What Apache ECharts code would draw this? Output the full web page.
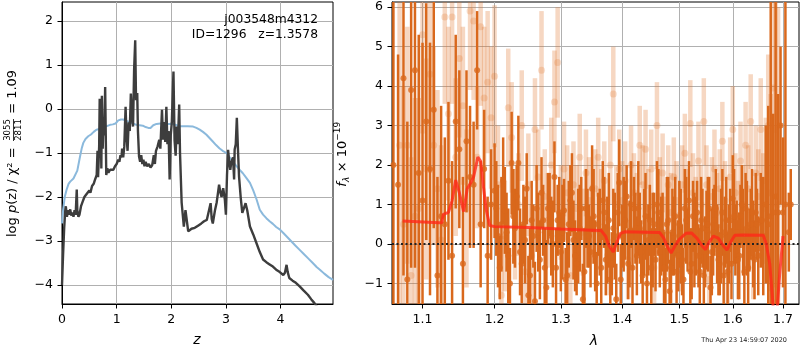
<!DOCTYPE html>
<html><head><meta charset="utf-8">
<script src="https://cdn.jsdelivr.net/npm/echarts@6/dist/echarts.min.js"></script>
<style>html,body{margin:0;padding:0;background:#fff}#c{width:800px;height:350px}</style>
</head><body><div id="c"></div>
<script>
// ---------------- data: left panel (redshift PDF) ----------------
const zDark = [0,0.02,0.04,0.06,0.07,0.09,0.11,0.13,0.15,0.17,0.19,0.21,0.23,0.25,0.27,0.28,0.30,0.32,0.35,0.38,0.41,0.44,0.47,0.50,0.52,0.55,0.58,0.60,0.62,0.635,0.65,0.66,0.68,0.69,0.70,0.71,0.72,0.73,0.745,0.76,0.775,0.79,0.80,0.81,0.83,0.85,0.88,0.91,0.94,0.97,1.00,1.03,1.05,1.07,1.09,1.10,1.12,1.14,1.164,1.18,1.20,1.22,1.24,1.26,1.28,1.30,1.32,1.34,1.355,1.377,1.39,1.41,1.43,1.45,1.47,1.49,1.51,1.53,1.56,1.59,1.62,1.65,1.68,1.70,1.72,1.75,1.78,1.80,1.83,1.85,1.87,1.89,1.91,1.93,1.95,1.97,1.99,2.01,2.04,2.06,2.08,2.10,2.12,2.145,2.16,2.19,2.23,2.26,2.31,2.37,2.43,2.49,2.55,2.60,2.65,2.68,2.72,2.74,2.76,2.80,2.83,2.85,2.875,2.90,2.92,2.95,2.98,3.0,3.02,3.04,3.06,3.08,3.10,3.13,3.15,3.16,3.18,3.20,3.22,3.24,3.27,3.30,3.33,3.36,3.39,3.44,3.50,3.56,3.62,3.68,3.74,3.80,3.86,3.92,3.98,4.05,4.08,4.11,4.13,4.16,4.22,4.28,4.35,4.42,4.50,4.56,4.62,4.70];
const logPz = [-4.0,-3.3,-2.7,-2.3,-2.21,-2.45,-2.3,-2.4,-2.28,-2.42,-2.35,-2.45,-2.3,-2.4,-1.83,-2.3,-2.45,-2.4,-2.2,-2.1,-2.0,-1.95,-1.95,-1.85,-1.9,-1.75,-1.7,-1.62,-1.65,-1.5,-0.95,-1.55,-0.85,0.23,-1.1,-0.4,-1.35,0.3,-0.9,-0.2,-0.6,0.5,-0.5,-1.5,-1.35,-1.45,-1.38,-1.42,-1.38,-1.3,-1.25,-1.15,-1.2,-1.05,-1.1,-0.9,-1.1,-0.85,0.05,-0.6,-0.95,-0.3,-0.5,0.35,-0.2,-0.4,0.9,1.56,0.2,0.36,-0.5,-1.08,-1.2,-1.05,-1.25,-1.15,-1.3,-1.2,-1.3,-1.25,-1.33,-1.28,-1.05,-1.25,-0.95,-0.85,-0.7,-0.9,-0.02,-0.7,-0.3,-0.75,0.05,-0.8,-0.5,-1.6,-0.6,-0.3,0.85,-0.7,-1.06,-0.4,-0.8,0.1,-1.0,-2.13,-2.67,-2.3,-2.78,-2.72,-2.7,-2.65,-2.6,-2.55,-2.52,-2.52,-2.14,-2.5,-2.6,-2.3,-2.13,-1.95,-1.72,-1.9,-2.0,-1.8,-2.05,-2.4,-1.5,-0.93,-1.2,-1.38,-1.2,-1.1,-1.6,-0.92,-0.8,-0.2,-0.9,-1.53,-2.0,-2.36,-2.25,-2.14,-2.3,-2.67,-2.85,-3.05,-3.25,-3.42,-3.48,-3.53,-3.58,-3.65,-3.7,-3.77,-3.72,-3.54,-3.7,-3.84,-3.9,-3.95,-4.03,-4.12,-4.22,-4.32,-4.41,-4.55];
const zChi = [0,0.02,0.05,0.085,0.12,0.15,0.177,0.21,0.24,0.28,0.33,0.36,0.39,0.43,0.48,0.53,0.58,0.63,0.70,0.76,0.82,0.88,0.93,0.98,1.03,1.08,1.12,1.18,1.24,1.30,1.36,1.42,1.48,1.53,1.58,1.62,1.67,1.73,1.80,1.88,1.95,2.03,2.10,2.16,2.22,2.30,2.40,2.46,2.52,2.58,2.64,2.70,2.76,2.82,2.88,2.94,3.01,3.07,3.13,3.19,3.25,3.31,3.37,3.44,3.50,3.56,3.62,3.68,3.74,3.80,3.86,3.92,3.99,4.06,4.13,4.20,4.27,4.35,4.43,4.51,4.59,4.66,4.72,4.80,4.88,4.96];
const chiCurve = [-2.6,-2.3,-2.0,-1.83,-1.7,-1.65,-1.65,-1.58,-1.55,-1.4,-1.08,-0.9,-0.77,-0.68,-0.62,-0.58,-0.52,-0.47,-0.45,-0.41,-0.39,-0.36,-0.35,-0.33,-0.26,-0.24,-0.24,-0.27,-0.3,-0.33,-0.36,-0.37,-0.38,-0.41,-0.43,-0.43,-0.37,-0.34,-0.33,-0.33,-0.34,-0.34,-0.37,-0.39,-0.39,-0.39,-0.4,-0.43,-0.47,-0.52,-0.58,-0.66,-0.74,-0.82,-0.89,-0.95,-1.0,-1.1,-1.2,-1.29,-1.38,-1.46,-1.56,-1.68,-1.85,-2.05,-2.29,-2.4,-2.48,-2.55,-2.61,-2.68,-2.74,-2.83,-2.92,-3.01,-3.1,-3.2,-3.3,-3.4,-3.5,-3.59,-3.65,-3.74,-3.82,-3.88];
const zTicks = [0,1,2,3,4];
const pzTicks = [-4,-3,-2,-1,0,1,2];

// ---------------- data: right panel (spectrum) ----------------
const waveA = [1.062,1.068,1.075,1.080,1.085,1.090,1.095,1.100,1.105,1.110,1.115,1.120,1.125,1.130,1.135,1.140,1.145,1.150,1.155,1.160,1.165,1.170,1.175,1.180,1.185,1.190,1.195,1.200,1.205,1.210,1.215,1.220,1.225,1.230,1.235,1.240,1.245,1.250,1.255,1.260,1.265,1.270,1.275,1.280,1.285,1.290,1.295,1.300,1.305,1.310,1.315,1.320,1.325,1.330,1.335,1.340,1.345,1.350,1.355,1.360,1.365,1.370,1.375,1.380,1.385,1.390,1.395,1.400,1.405,1.410,1.415,1.420,1.425,1.430,1.435,1.440,1.445,1.450,1.455,1.460,1.465,1.470,1.475,1.480,1.485,1.490,1.495,1.500,1.505,1.510,1.515,1.520,1.525,1.530,1.535,1.540,1.545,1.550,1.555,1.560,1.565,1.570,1.575,1.580,1.585,1.590,1.595,1.600,1.605,1.610,1.615,1.620,1.625,1.630,1.635,1.640,1.645,1.650,1.655,1.660,1.665,1.670,1.675,1.680,1.685,1.690,1.695,1.700,1.705,1.712,1.716,
  1.2025,1.2075,1.2125,1.2175,1.2225,1.2275,1.2325,1.2375,1.2425,1.2475,1.2525,1.2575,1.2625,1.2675,1.2725,1.2775,1.2825,1.2875,1.2925,1.2975,1.3025,1.3075,1.3125,1.3175,1.3225,1.3275,1.3325,1.3375,1.3425,1.3475,1.3525,1.3575,1.3625,1.3675,1.3725,1.3775,1.3825,1.3875,1.3925,1.3975,1.4025,1.4075,1.4125,1.4175,1.4225,1.4275,1.4325,1.4375,1.4425,1.4475,1.4525,1.4575,1.4625,1.4675,1.4725,1.4775,1.4825,1.4875,1.4925,1.4975,1.5025,1.5075,1.5125,1.5175,1.5225,1.5275,1.5325,1.5375,1.5425,1.5475,1.5525,1.5575,1.5625,1.5675,1.5725,1.5775,1.5825,1.5875,1.5925,1.5975,1.6025,1.6075,1.6125,1.6175,1.6225,1.6275,1.6325,1.6375,1.6425,1.6475,1.6525,1.6575];
const fluxA = [2.0,1.5,4.2,-0.9,3.9,4.4,1.8,1.1,3.1,1.9,3.4,-0.8,0.7,0.5,1.6,-0.3,3.1,2.4,-0.5,2.6,1.7,1.5,4.4,0.5,1.9,-0.3,1.0,1.35,0.2,0.5,0.85,-0.3,2.05,0.4,2.05,-0.5,0.1,-1.3,0.6,-1.45,0.3,1.3,-0.6,0.9,0.2,1.7,0.6,-0.2,0.85,-0.8,1.1,0.1,-0.5,0.4,-1.4,0.9,0.2,1.4,-0.3,0.5,-0.6,0.8,0.1,-0.9,0.4,-1.4,1.55,0.2,0.6,-0.5,1.0,0.9,-0.3,0.4,-0.8,0.7,0.1,-0.6,0.5,1.0,-0.2,0.3,-0.9,0.6,-0.6,0.2,-0.7,0.5,-0.4,0.9,0.1,-0.7,0.7,0.2,-0.3,0.6,-0.8,0.35,0.9,-0.2,0.6,0.0,-0.5,0.8,0.3,-0.7,0.6,1.15,0.1,-0.4,0.7,0.3,0.9,-0.6,0.5,0.0,0.8,-0.3,0.6,0.2,1.0,0.5,0.7,0.8,1.2,0.8,3.0,0.8,1.0,0.3,1.0,
  0.9,-0.6,1.6,0.3,-1.0,0.7,1.2,-0.2,0.5,1.4,-0.8,0.2,0.9,-0.4,0.6,-1.1,1.0,0.0,-0.6,0.8,0.3,-0.9,0.5,1.3,-0.3,0.2,0.9,-0.7,0.4,-0.2,0.7,-1.0,0.3,1.1,-0.4,0.6,-0.5,0.2,0.8,-0.9,0.5,1.2,0.0,-0.6,0.4,0.9,-0.2,0.3,-1.0,0.6,0.1,-0.4,0.8,0.2,-0.6,0.5,-1.2,0.3,0.7,-0.3,0.2,-0.9,0.6,1.1,-0.5,0.1,0.8,-0.7,0.4,-0.2,0.5,-1.1,0.3,0.9,-0.4,0.2,-0.8,0.6,0.0,-0.5,0.7,0.3,-0.3,1.0,-0.7,0.4,0.1,0.8,-0.4,0.5,-0.1,0.6];
const errA = [8,3.3,5,4,4.5,5,3.5,4,3,3.2,3,2.5,2.8,2.2,2,2.4,2.2,2,2.2,1.8,1.8,1.6,1.5,1.6,1.5,1.5,1.4,1.2,1.3,1.2,1.1,1.2,1.3,1.0,1.2,1.0,1.1,1.0,1.0,1.0,1.0,0.9,1.0,0.9,1.0,0.9,0.9,1.0,0.8,1.1,0.9,1.0,0.8,1.1,0.9,1.0,0.8,1.1,0.9,0.8,1.0,0.9,1.1,0.8,1.0,0.9,1.1,0.8,1.0,0.9,1.1,0.8,1.0,0.9,0.8,1.1,0.9,1.0,0.8,1.1,0.9,1.0,0.8,1.1,0.9,1.0,0.8,1.1,0.9,1.0,0.8,1.1,0.9,1.0,0.8,1.1,0.9,1.0,0.8,1.1,0.9,1.0,0.8,1.1,0.9,1.0,0.8,1.1,0.9,1.0,0.8,1.1,0.9,1.0,0.9,1.1,1.0,1.0,1.2,1.5,2.0,3.0,8,2.5,10,3.0,2.0,1.9,10,
  1.0,0.9,1.2,0.8,1.1,1.0,0.9,1.2,0.8,1.1,1.0,0.9,1.2,0.8,1.1,1.0,0.9,1.2,0.8,1.1,1.0,0.9,1.2,0.8,1.1,1.0,0.9,1.2,0.8,1.1,1.0,0.9,1.2,0.8,1.1,1.0,0.9,1.2,0.8,1.1,1.0,0.9,1.2,0.8,1.1,1.0,0.9,1.2,0.8,1.1,1.0,0.9,1.2,0.8,1.1,1.0,0.9,1.2,0.8,1.1,1.0,0.9,1.2,0.8,1.1,1.0,0.9,1.2,0.8,1.1,1.0,0.9,1.2,0.8,1.1,1.0,0.9,1.2,0.8,1.1,1.0,0.9,1.2,0.8,1.1,1.0,0.9,1.2,0.8,1.1,1.0,0.9];
const waveB = [1.070,1.075,1.080,1.085,1.090,1.095,1.100,1.105,1.110,1.115,1.120,1.125,1.130,1.135,1.140,1.145,1.150,1.155,1.160,1.165,1.170,1.175,1.180,1.185,1.190,1.195,1.200,1.205,1.210,1.215,1.220,1.225,1.230,1.235,1.240,1.245,1.250,1.255,1.260,1.265,1.270,1.275,1.280,1.285,1.290,1.295,1.300,1.305,1.310,1.315,1.320,1.325,1.330,1.335,1.340,1.345,1.350,1.355,1.360,1.365,1.370,1.375,1.380,1.385,1.390,1.395,1.400,1.405,1.410,1.415,1.420,1.425,1.430,1.435,1.440,1.445,1.450,1.455,1.460,1.465,1.470,1.475,1.480,1.485,1.490,1.495,1.500,1.505,1.510,1.515,1.520,1.525,1.530,1.535,1.540,1.545,1.550,1.555,1.560,1.565,1.570,1.575,1.580,1.585,1.590,1.595,1.600,1.605,1.610,1.615,1.620,1.625,1.630,1.635,1.640,1.645,1.650,1.655,1.660,1.665,1.670,1.675,1.680,1.685,1.690];
const fluxB = [2.5,0.5,2.5,-0.8,0.7,0.9,5.3,1.9,4.3,2.5,1.4,0.1,5.75,3.3,5.75,2.2,4.7,3.5,0.9,5.9,5.65,2.2,5.5,3.7,4.1,3.2,4.25,1.5,-1.3,0.2,3.45,2.7,0.5,1.0,3.0,-0.7,1.5,-0.3,2.9,1.7,4.4,1.2,0.6,2.0,3.6,4.6,0.8,1.9,1.3,-0.8,1.5,0.9,2.2,0.3,1.8,1.1,0.5,1.4,2.2,0.9,1.6,-0.3,2.0,3.8,1.0,1.9,1.1,1.6,-0.4,2.0,1.3,0.8,2.5,1.5,2.4,0.9,1.9,-0.6,3.0,1.2,1.8,0.2,1.5,0.8,1.7,1.1,-0.2,1.5,2.3,0.9,3.05,1.3,0.7,2.1,1.0,3.1,1.5,-0.9,1.2,1.9,0.8,1.4,2.6,1.1,-0.5,1.7,2.9,1.3,0.6,2.1,1.0,2.5,1.4,3.1,-0.3,1.8,1.2,2.9,0.9,1.6,3.0,1.3,3.95,2.9,1.0];
const errB = [4,3.5,3,3,3,2.8,2.5,2.8,2.5,2.5,2.5,2.4,2.2,2.2,2.2,2,2,2,2,2,2,1.8,2,1.8,1.8,1.8,1.8,1.5,1.5,1.4,1.5,1.4,1.4,1.3,1.4,1.3,1.3,1.3,1.3,1.2,1.5,1.2,1.2,1.2,1.3,1.4,1.2,1.2,1.2,1.1,1.1,1.1,1.1,1.1,1.1,1.1,1.0,1.0,1.0,1.0,1.0,1.0,1.0,1.2,1.0,1.0,1.0,1.0,1.0,1.0,1.0,1.0,1.0,1.0,1.0,1.0,1.0,1.0,1.1,1.0,1.0,1.0,1.0,1.0,1.0,1.0,1.0,1.0,1.0,1.0,1.1,1.0,1.0,1.0,1.0,1.1,1.0,1.0,1.0,1.0,1.0,1.0,1.0,1.0,1.0,1.0,1.1,1.0,1.0,1.0,1.0,1.1,1.1,1.2,1.1,1.2,1.2,1.3,1.4,1.6,1.8,2.5,3,4,5];
const modelWave = [1.074,1.122,1.126,1.128,1.135,1.140,1.145,1.150,1.156,1.161,1.166,1.170,1.176,1.180,1.184,1.188,1.193,1.200,1.25,1.30,1.35,1.365,1.372,1.378,1.385,1.391,1.397,1.405,1.44,1.465,1.472,1.478,1.485,1.492,1.50,1.512,1.522,1.532,1.542,1.548,1.555,1.563,1.572,1.582,1.589,1.596,1.604,1.62,1.66,1.666,1.673,1.680,1.686,1.693,1.700];
const modelFlux = [0.58,0.54,0.54,0.75,0.8,1.1,1.62,1.3,0.82,1.4,1.55,1.7,2.2,2.1,1.45,0.86,0.47,0.44,0.42,0.38,0.35,0.34,0.2,-0.05,-0.2,0.05,0.27,0.31,0.3,0.29,0.15,-0.05,-0.23,-0.05,0.12,0.27,0.28,0.15,-0.05,-0.14,0.05,0.2,0.15,-0.05,-0.15,0.05,0.22,0.23,0.22,0.0,-0.5,-1.6,-2.0,-0.8,0.2];
const lamTicks = [1.1,1.2,1.3,1.4,1.5,1.6,1.7];
const fluxTicks = [-1,0,1,2,3,4,5,6];
const objName = 'j003548m4312';
const objInfo = 'ID=1296   z=1.3578';
const stamp = 'Thu Apr 23 14:59:07 2020';

// ---------------- chart ----------------
const Z_MIN = 0, Z_MAX = 4.96, P_MIN = -4.43, P_MAX = 2.43;
const L_MIN = 1.0602, L_MAX = 1.7332, F_MIN = -1.52, F_MAX = 6.13;
const FONT = '"DejaVu Sans", sans-serif';
const minus = v => String(v).replace('-', '\u2212');
const ln = Math.log;
const pairs = (xs, ys, fx) => xs.map((x, i) => [fx ? fx(x) : x, ys[i]]);
const triples = (xs, ys, es) => xs.map((x, i) => [ln(x), ys[i], es[i]]);

function errRender(width, color) {
  return function (params, api) {
    const x = api.value(0), f = api.value(1), e = api.value(2);
    if (x < ln(L_MIN) || x > ln(L_MAX)) return;
    const lo = Math.max(f - e, F_MIN), hi = Math.min(f + e, F_MAX);
    if (lo >= hi) return;
    const p1 = api.coord([x, lo]), p2 = api.coord([x, hi]);
    return { type: 'line', shape: { x1: p1[0], y1: p1[1], x2: p2[0], y2: p2[1] },
             style: { stroke: color, lineWidth: width } };
  };
}

const axisCommon = {
  axisLine: { show: true, onZero: false, lineStyle: { color: '#000', width: 1 } },
  axisTick: { show: true, length: 4.5, lineStyle: { color: '#000', width: 1 } },
  splitLine: { show: true, lineStyle: { color: '#b0b0b0', width: 1 } },
};
const labelStyle = { color: '#000', fontFamily: FONT, fontSize: 12.5, margin: 9 };

const chart = echarts.init(document.getElementById('c'), null, { renderer: 'canvas' });
chart.setOption({
  animation: false,
  backgroundColor: '#fff',
  grid: [
    { left: 62, right: 467, top: 2, bottom: 46, show: true, borderColor: '#000', borderWidth: 1, containLabel: false },
    { left: 392, right: 1, top: 2, bottom: 46, show: true, borderColor: '#000', borderWidth: 1, containLabel: false }
  ],
  xAxis: [
    Object.assign({}, axisCommon, { gridIndex: 0, type: 'value', min: Z_MIN, max: Z_MAX,
      axisTick: Object.assign({}, axisCommon.axisTick, { customValues: zTicks }),
      axisLabel: Object.assign({}, labelStyle, { customValues: zTicks, formatter: v => minus(v) }) }),
    Object.assign({}, axisCommon, { gridIndex: 1, type: 'value', min: ln(L_MIN), max: ln(L_MAX),
      axisTick: Object.assign({}, axisCommon.axisTick, { customValues: lamTicks.map(ln) }),
      axisLabel: Object.assign({}, labelStyle, { customValues: lamTicks.map(ln), formatter: v => Math.exp(v).toFixed(1) }) })
  ],
  yAxis: [
    Object.assign({}, axisCommon, { gridIndex: 0, type: 'value', min: P_MIN, max: P_MAX,
      axisTick: Object.assign({}, axisCommon.axisTick, { customValues: pzTicks }),
      axisLabel: Object.assign({}, labelStyle, { customValues: pzTicks, formatter: v => minus(Math.round(v)) }) }),
    Object.assign({}, axisCommon, { gridIndex: 1, type: 'value', min: F_MIN, max: F_MAX,
      axisTick: Object.assign({}, axisCommon.axisTick, { customValues: fluxTicks }),
      axisLabel: Object.assign({}, labelStyle, { customValues: fluxTicks, formatter: v => minus(Math.round(v)) }) })
  ],
  series: [
    { type: 'line', xAxisIndex: 0, yAxisIndex: 0, data: pairs(zChi, chiCurve), showSymbol: false, clip: true,
      lineStyle: { color: '#8bb9dc', width: 2 }, z: 3 },
    { type: 'line', xAxisIndex: 0, yAxisIndex: 0, data: pairs(zDark, logPz), showSymbol: false, clip: true,
      lineStyle: { color: '#3d3d3d', width: 2.4 }, z: 4 },
    // light spectrum
    { type: 'custom', xAxisIndex: 1, yAxisIndex: 1, data: triples(waveB, fluxB, errB), encode: { x: 0, y: 1 },
      renderItem: errRender(4.5, 'rgba(222,110,35,0.28)'), clip: true, z: 2 },
    { type: 'scatter', xAxisIndex: 1, yAxisIndex: 1, data: pairs(waveB, fluxB, ln), symbolSize: 7, clip: true,
      itemStyle: { color: 'rgba(222,110,35,0.28)' }, z: 2 },
    // dark spectrum
    { type: 'custom', xAxisIndex: 1, yAxisIndex: 1, data: triples(waveA, fluxA, errA), encode: { x: 0, y: 1 },
      renderItem: errRender(2.5, '#d9681c'), clip: true, z: 3 },
    { type: 'scatter', xAxisIndex: 1, yAxisIndex: 1, data: pairs(waveA, fluxA, ln), symbolSize: 6, clip: true,
      itemStyle: { color: '#d9681c' }, z: 3 },
    // model
    { type: 'line', xAxisIndex: 1, yAxisIndex: 1, data: pairs(modelWave, modelFlux, ln), showSymbol: false, clip: true,
      lineStyle: { color: 'rgba(255,40,25,0.8)', width: 3 }, z: 5,
      markLine: { silent: true, symbol: 'none', label: { show: false },
        lineStyle: { color: '#222', type: [2, 2.5], width: 2 }, data: [{ yAxis: 0 }] } }
  ],
  graphic: [
    { type: 'text', x: 318, y: 19.5, z: 10, style: { text: objName, fill: '#000', font: '12.3px ' + FONT, align: 'right', verticalAlign: 'middle' } },
    { type: 'text', x: 318, y: 35, z: 10, style: { text: objInfo, fill: '#000', font: '12.3px ' + FONT, align: 'right', verticalAlign: 'middle' } },
    { type: 'text', x: 197, y: 340, style: { text: 'z', fill: '#000', font: 'italic 14px ' + FONT, align: 'center', verticalAlign: 'middle' } },
    { type: 'text', x: 594, y: 341, style: { text: 'λ', fill: '#000', font: 'italic 14px ' + FONT, align: 'center', verticalAlign: 'middle' } },
    { type: 'text', x: 787, y: 340, style: { text: stamp, fill: '#222', font: '6.5px ' + FONT, align: 'right', verticalAlign: 'middle' } },
    { type: 'group', x: 13, y: 153, rotation: Math.PI / 2, children: [
      { type: 'text', x: -84, y: 0, style: { text: '{a|log }{i|p}{a|(z) / χ² = }', fill: '#000', align: 'left', verticalAlign: 'middle',
        rich: { a: { font: '13px ' + FONT, fill: '#000' }, i: { font: 'italic 13px ' + FONT, fill: '#000' } } } },
      { type: 'text', x: 23, y: -5, style: { text: '3055', fill: '#000', font: '8.5px ' + FONT, align: 'center', verticalAlign: 'middle' } },
      { type: 'line', shape: { x1: 12, y1: 0.5, x2: 34, y2: 0.5 }, style: { stroke: '#000', lineWidth: 0.8 } },
      { type: 'text', x: 23, y: 6, style: { text: '2811', fill: '#000', font: '8.5px ' + FONT, align: 'center', verticalAlign: 'middle' } },
      { type: 'text', x: 35, y: 0, style: { text: ' = 1.09', fill: '#000', font: '13px ' + FONT, align: 'left', verticalAlign: 'middle' } }
    ] },
    { type: 'group', x: 343, y: 154.5, rotation: Math.PI / 2, children: [
      { type: 'text', x: -32.3, y: 0, style: { text: 'f', fill: '#000', font: 'italic 13px ' + FONT, align: 'left', verticalAlign: 'middle' } },
      { type: 'text', x: -27.6, y: 4, style: { text: 'λ', fill: '#000', font: 'italic 9px ' + FONT, align: 'left', verticalAlign: 'middle' } },
      { type: 'text', x: -22, y: 0, style: { text: ' × 10', fill: '#000', font: '13px ' + FONT, align: 'left', verticalAlign: 'middle' } },
      { type: 'text', x: 13.7, y: -5, style: { text: '\u221219', fill: '#000', font: '9px ' + FONT, align: 'left', verticalAlign: 'middle' } }
    ] }
  ]
});
</script>
</body></html>
